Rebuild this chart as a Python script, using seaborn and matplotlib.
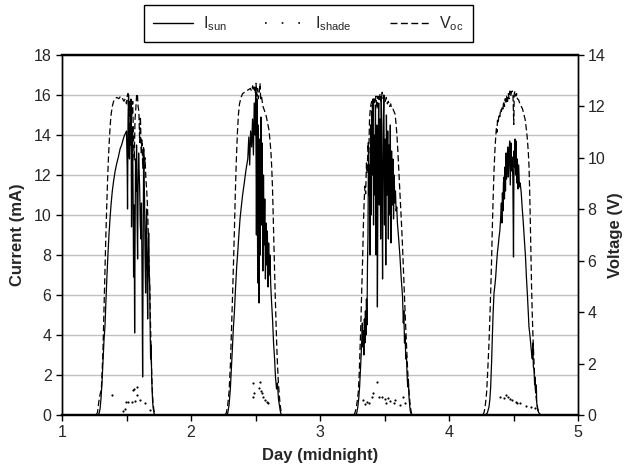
import numpy as np
import pandas as pd
import seaborn as sns
import matplotlib.pyplot as plt
from matplotlib.lines import Line2D

# (day, value) pairs, one list per day and series
isun_day1 = [(1.28, 0), (1.288, 0.1), (1.295, 0.3), (1.302, 0.8), (1.31, 1.6), (1.318, 2.7), (1.326, 3.8),
             (1.333, 4.4), (1.34, 5.6), (1.348, 6.9), (1.356, 8.0), (1.364, 9.0), (1.372, 9.8), (1.38, 10.5),
             (1.39, 11.2), (1.40, 11.7), (1.412, 12.2), (1.425, 12.6), (1.437, 12.9), (1.45, 13.3), (1.462, 13.5),
             (1.475, 13.8), (1.485, 14.0), (1.494, 14.1), (1.50, 14.2), (1.505, 12.5), (1.508, 10.3), (1.512, 14.8),
             (1.516, 16.0), (1.52, 13.0), (1.523, 12.8), (1.527, 14.6), (1.531, 13.5), (1.535, 15.8), (1.539, 9.4),
             (1.543, 12.5), (1.547, 14.4), (1.551, 11.0), (1.555, 6.9), (1.559, 10.5), (1.563, 4.1), (1.566, 8.5),
             (1.57, 12.8), (1.574, 11.2), (1.578, 13.5), (1.582, 10.0), (1.586, 7.8), (1.59, 11.5), (1.594, 13.1),
             (1.598, 12.2), (1.602, 11.4), (1.607, 9.5), (1.612, 8.8), (1.616, 10.6), (1.62, 7.5), (1.623, 4.0),
             (1.625, 1.9), (1.629, 8.0), (1.633, 13.3), (1.637, 11.5), (1.64, 10.8), (1.644, 8.0), (1.648, 6.1),
             (1.652, 9.2), (1.656, 10.3), (1.66, 7.0), (1.664, 4.8), (1.668, 7.8), (1.672, 9.1), (1.676, 7.2),
             (1.68, 6.4), (1.684, 4.0), (1.687, 2.8), (1.691, 3.5), (1.695, 1.9), (1.699, 1.2), (1.703, 0.6),
             (1.708, 0.3), (1.713, 0.1), (1.72, 0)]
isun_day2 = [(2.275, 0), (2.285, 0.1), (2.295, 0.5), (2.305, 1.3), (2.312, 2.2), (2.32, 3.2), (2.328, 4.3),
             (2.336, 5.1), (2.345, 6.3), (2.354, 7.4), (2.362, 8.1), (2.37, 8.9), (2.38, 9.8), (2.388, 10.3),
             (2.40, 11.0), (2.413, 11.6), (2.425, 12.2), (2.435, 12.6), (2.44, 12.8), (2.448, 13.9), (2.455, 12.5),
             (2.462, 14.2), (2.47, 13.4), (2.477, 14.8), (2.484, 13.0), (2.49, 15.6), (2.496, 14.0), (2.502, 16.3),
             (2.507, 9.0), (2.512, 15.8), (2.517, 6.6), (2.522, 14.5), (2.527, 5.6), (2.532, 13.8), (2.537, 8.0),
             (2.542, 14.9), (2.547, 9.5), (2.552, 13.6), (2.557, 7.2), (2.562, 12.0), (2.567, 8.5), (2.572, 10.8),
             (2.577, 6.8), (2.582, 9.6), (2.587, 7.5), (2.592, 9.2), (2.597, 6.4), (2.602, 8.6), (2.607, 7.0),
             (2.612, 8.0), (2.618, 6.5), (2.625, 5.6), (2.632, 4.8), (2.64, 3.6), (2.648, 2.8), (2.655, 1.9),
             (2.663, 1.3), (2.67, 1.6), (2.678, 0.8), (2.685, 0.5), (2.692, 0.2), (2.70, 0)]
isun_day3 = [(3.275, 0), (3.285, 0.1), (3.293, 0.4), (3.30, 0.8), (3.307, 1.4), (3.313, 2.2), (3.319, 3.0),
             (3.324, 3.8), (3.328, 4.6), (3.332, 3.4), (3.336, 4.2), (3.34, 3.0), (3.344, 4.8), (3.348, 3.6),
             (3.352, 5.2), (3.356, 4.0), (3.36, 5.8), (3.364, 4.5), (3.368, 7.5), (3.372, 9.0), (3.376, 13.4),
             (3.38, 11.0), (3.384, 12.5), (3.388, 8.0), (3.392, 14.5), (3.396, 10.0), (3.40, 15.2), (3.405, 12.0),
             (3.41, 15.8), (3.415, 9.5), (3.42, 14.0), (3.425, 11.0), (3.43, 15.5), (3.435, 8.0), (3.44, 14.5),
             (3.445, 5.4), (3.45, 13.0), (3.455, 15.6), (3.46, 10.5), (3.465, 14.8), (3.47, 8.8), (3.475, 15.9),
             (3.48, 12.0), (3.485, 6.8), (3.49, 14.5), (3.495, 16.0), (3.50, 9.5), (3.505, 13.8), (3.51, 7.5),
             (3.515, 15.0), (3.52, 11.0), (3.525, 14.2), (3.53, 8.8), (3.535, 13.5), (3.54, 10.0), (3.545, 14.5),
             (3.55, 8.6), (3.555, 13.2), (3.56, 10.5), (3.565, 12.8), (3.57, 9.8), (3.575, 12.0), (3.58, 10.6),
             (3.585, 11.2), (3.59, 10.2), (3.595, 10.4), (3.60, 9.6), (3.61, 8.8), (3.62, 7.9), (3.63, 6.8),
             (3.64, 5.9), (3.646, 4.6), (3.65, 5.2), (3.655, 3.6), (3.66, 4.0), (3.665, 2.8), (3.67, 3.0),
             (3.675, 2.0), (3.68, 1.4), (3.685, 1.8), (3.69, 0.9), (3.695, 0.5), (3.70, 0.2), (3.71, 0)]
isun_day4 = [(4.28, 0), (4.29, 0.05), (4.297, 0.1), (4.31, 0.4), (4.317, 0.8), (4.323, 1.4), (4.33, 2.6),
             (4.336, 3.9), (4.342, 5.1), (4.349, 6.1), (4.356, 6.5), (4.362, 6.9), (4.368, 7.5), (4.375, 8.1),
             (4.382, 8.5), (4.388, 8.9), (4.394, 9.2), (4.40, 9.8), (4.406, 10.6), (4.41, 9.6), (4.414, 11.1),
             (4.418, 10.2), (4.422, 11.6), (4.426, 11.9), (4.43, 10.8), (4.434, 12.4), (4.438, 11.2), (4.442, 13.1),
             (4.446, 11.8), (4.45, 12.6), (4.455, 13.4), (4.46, 11.9), (4.465, 13.0), (4.47, 13.7), (4.475, 11.5),
             (4.48, 13.6), (4.485, 12.2), (4.49, 12.9), (4.495, 11.8), (4.50, 7.9), (4.504, 13.2), (4.508, 12.4),
             (4.512, 13.8), (4.516, 12.0), (4.52, 13.7), (4.525, 11.6), (4.53, 12.8), (4.535, 11.3), (4.54, 12.5),
             (4.546, 11.4), (4.552, 11.6), (4.56, 11.1), (4.568, 10.3), (4.575, 9.7), (4.581, 9.1), (4.588, 8.4),
             (4.594, 7.8), (4.60, 6.9), (4.607, 6.1), (4.614, 5.2), (4.62, 4.4), (4.627, 4.0), (4.633, 3.6),
             (4.64, 3.1), (4.646, 2.8), (4.65, 3.6), (4.654, 2.4), (4.659, 2.3), (4.664, 1.5), (4.668, 1.9),
             (4.672, 1.1), (4.677, 1.5), (4.68, 0.6), (4.685, 0.4), (4.69, 0.2), (4.698, 0.1), (4.71, 0)]

voc_day1 = [(1.265, 0), (1.275, 0.1), (1.285, 0.5), (1.295, 0.8), (1.305, 1.0), (1.312, 1.8), (1.318, 2.6),
            (1.325, 4.0), (1.332, 5.4), (1.339, 6.8), (1.346, 8.0), (1.353, 9.1), (1.36, 10.0), (1.367, 10.7),
            (1.374, 11.3), (1.381, 11.7), (1.39, 12.0), (1.40, 12.2), (1.41, 12.3), (1.425, 12.35), (1.44, 12.3),
            (1.455, 12.4), (1.47, 12.3), (1.48, 12.2), (1.49, 12.3), (1.50, 12.1), (1.505, 12.4), (1.512, 12.5),
            (1.518, 11.5), (1.524, 12.2), (1.53, 11.2), (1.536, 12.3), (1.542, 11.6), (1.548, 12.2), (1.554, 10.8),
            (1.56, 9.9), (1.566, 11.5), (1.572, 11.9), (1.578, 12.4), (1.584, 12.5), (1.59, 12.0), (1.596, 11.8),
            (1.602, 10.6), (1.608, 11.6), (1.614, 10.2), (1.62, 10.7), (1.626, 9.6), (1.632, 10.4), (1.638, 9.6),
            (1.644, 10.0), (1.65, 9.2), (1.656, 8.8), (1.662, 8.2), (1.668, 7.2), (1.674, 6.0), (1.68, 5.0),
            (1.686, 3.6), (1.692, 2.2), (1.698, 1.2), (1.705, 0.5), (1.712, 0.2), (1.72, 0)]
voc_day2 = [(2.265, 0), (2.275, 0.1), (2.285, 0.4), (2.295, 0.9), (2.305, 1.9), (2.315, 3.5), (2.323, 4.8),
            (2.33, 6.0), (2.337, 7.3), (2.344, 8.7), (2.352, 10.0), (2.36, 11.0), (2.368, 11.7), (2.376, 12.1),
            (2.388, 12.35), (2.40, 12.5), (2.415, 12.55), (2.43, 12.6), (2.445, 12.65), (2.46, 12.7), (2.47, 12.6),
            (2.478, 12.8), (2.485, 12.6), (2.492, 12.75), (2.498, 12.5), (2.504, 12.9), (2.51, 12.4), (2.516, 12.7),
            (2.522, 12.3), (2.528, 12.5), (2.535, 12.9), (2.54, 12.3), (2.546, 12.4), (2.552, 12.2), (2.558, 12.0),
            (2.565, 11.9), (2.572, 11.8), (2.58, 11.7), (2.588, 11.5), (2.596, 11.3), (2.604, 11.1), (2.612, 10.7),
            (2.62, 10.2), (2.626, 9.6), (2.632, 8.8), (2.637, 7.8), (2.642, 6.8), (2.647, 5.8), (2.652, 4.8),
            (2.658, 3.8), (2.664, 2.8), (2.67, 2.0), (2.677, 1.3), (2.684, 0.8), (2.691, 0.4), (2.698, 0.15),
            (2.705, 0)]
voc_day3 = [(3.262, 0), (3.272, 0.1), (3.282, 0.3), (3.29, 0.6), (3.297, 0.9), (3.304, 1.6), (3.31, 2.5),
            (3.317, 3.6), (3.323, 4.75), (3.33, 6.0), (3.336, 7.3), (3.342, 8.3), (3.348, 8.9), (3.354, 8.6),
            (3.36, 9.8), (3.366, 9.4), (3.372, 10.6), (3.378, 10.2), (3.384, 11.5), (3.39, 11.9), (3.396, 12.1),
            (3.402, 12.2), (3.41, 11.6), (3.418, 12.3), (3.426, 12.1), (3.434, 12.4), (3.442, 11.9), (3.45, 12.4),
            (3.458, 12.2), (3.466, 12.5), (3.474, 12.2), (3.482, 12.55), (3.49, 12.3), (3.498, 12.4), (3.506, 12.2),
            (3.514, 12.35), (3.522, 12.1), (3.53, 12.2), (3.54, 12.0), (3.548, 12.1), (3.556, 11.9), (3.565, 11.9),
            (3.574, 11.8), (3.582, 11.7), (3.59, 11.3), (3.596, 10.9), (3.602, 10.4), (3.608, 9.8), (3.614, 9.2),
            (3.62, 8.6), (3.627, 7.9), (3.634, 7.2), (3.641, 6.4), (3.648, 5.5), (3.655, 4.6), (3.662, 3.7),
            (3.669, 2.9), (3.676, 2.1), (3.683, 1.4), (3.69, 0.9), (3.697, 0.5), (3.704, 0.2), (3.712, 0)]
voc_day4 = [(4.262, 0), (4.272, 0.1), (4.282, 0.4), (4.292, 0.9), (4.30, 1.7), (4.31, 2.8), (4.317, 3.8),
            (4.323, 4.75), (4.33, 6.0), (4.336, 7.3), (4.342, 8.4), (4.349, 9.5), (4.356, 10.3), (4.362, 10.8),
            (4.368, 11.2), (4.372, 11.0), (4.376, 11.5), (4.382, 11.4), (4.388, 11.7), (4.394, 11.6), (4.40, 11.9),
            (4.406, 11.8), (4.412, 12.0), (4.418, 11.9), (4.424, 12.2), (4.43, 12.0), (4.436, 12.3), (4.442, 12.1),
            (4.448, 12.4), (4.454, 12.2), (4.46, 12.5), (4.466, 12.3), (4.472, 12.6), (4.478, 12.4), (4.484, 12.55),
            (4.49, 12.6), (4.496, 12.4), (4.502, 11.3), (4.506, 12.5), (4.512, 12.6), (4.518, 12.4), (4.524, 12.5),
            (4.53, 12.3), (4.54, 12.25), (4.55, 12.1), (4.56, 12.0), (4.57, 11.9), (4.58, 11.7), (4.59, 11.5),
            (4.60, 11.1), (4.608, 10.7), (4.615, 10.2), (4.62, 9.7), (4.625, 8.8), (4.63, 7.6), (4.635, 6.3),
            (4.64, 5.0), (4.645, 4.0), (4.65, 3.2), (4.656, 2.4), (4.662, 1.7), (4.668, 1.1), (4.675, 0.7),
            (4.682, 0.4), (4.69, 0.2), (4.70, 0.05), (4.71, 0)]

ishade_day1 = [(1.385, 1.0), (1.47, 0.2), (1.485, 0.3), (1.496, 0.67), (1.51, 0.65), (1.54, 0.67), (1.55, 1.25),
               (1.558, 1.3), (1.565, 0.7), (1.579, 1.4), (1.585, 1.0), (1.605, 0.75), (1.643, 0.6), (1.68, 0.25)]
ishade_day2 = [(2.478, 0.9), (2.483, 1.6), (2.49, 1.1), (2.53, 1.35), (2.535, 1.65), (2.542, 1.2), (2.548, 1.1),
               (2.56, 0.9), (2.574, 0.75), (2.587, 0.65), (2.60, 0.6)]
ishade_day3 = [(3.336, 0.75), (3.35, 0.55), (3.362, 0.67), (3.38, 0.6), (3.40, 0.9), (3.413, 1.1), (3.44, 1.67),
               (3.455, 0.9), (3.478, 0.92), (3.50, 0.8), (3.515, 0.6), (3.53, 0.85), (3.545, 0.7), (3.57, 0.6),
               (3.585, 0.75), (3.62, 0.5), (3.646, 0.9), (3.66, 0.6)]
ishade_day4 = [(4.395, 0.92), (4.43, 0.85), (4.44, 1.0), (4.455, 0.9), (4.47, 0.8), (4.49, 0.75), (4.517, 0.67),
               (4.53, 0.6), (4.55, 0.6), (4.60, 0.45), (4.633, 0.4), (4.667, 0.35)]

day_ticks = [1, 2, 3, 4, 5]
current_ticks = list(range(0, 19, 2))
voltage_ticks = list(range(0, 15, 2))

sns.set_style("white")
plt.rcParams['font.family'] = ['Liberation Sans', 'DejaVu Sans']
plt.rcParams['mathtext.fontset'] = 'custom'
plt.rcParams['mathtext.rm'] = 'Liberation Sans'

fig = plt.figure(figsize=(6.24, 4.74), dpi=100)
ax = fig.add_axes([62/624, 1 - 415/474, 516/624, 360/474])
ax2 = ax.twinx()

dash = (0, (5, 2.5))
for day in [isun_day1, isun_day2, isun_day3, isun_day4]:
    t, v = zip(*day)
    sns.lineplot(x=list(t), y=list(v), ax=ax, color='black', linewidth=0.9, estimator=None, sort=False)
for day in [ishade_day1, ishade_day2, ishade_day3, ishade_day4]:
    t, v = zip(*day)
    sns.scatterplot(x=list(t), y=list(v), ax=ax, color='black', s=2.5, linewidth=0)
for day in [voc_day1, voc_day2, voc_day3, voc_day4]:
    t, v = zip(*day)
    sns.lineplot(x=list(t), y=list(v), ax=ax2, color='black', linewidth=0.9, linestyle=dash,
                 estimator=None, sort=False)

ax.set_xlim(1, 5)
ax.set_ylim(0, 18)
ax2.set_ylim(0, 14)
ax.set_xticks(day_ticks)
ax.set_xticks([1.5, 2.5, 3.5, 4.5], minor=True)
ax.set_yticks(current_ticks)
ax2.set_yticks(voltage_ticks)

ax.yaxis.grid(True, color='#c0c0c0', linewidth=1.0)
ax.xaxis.grid(False)
ax2.grid(False)
ax.set_axisbelow(True)

ax.tick_params(axis='x', which='both', bottom=True, direction='out', length=4, width=1,
               color='black', labelsize=11.5, pad=3)
ax.tick_params(axis='y', left=True, direction='out', length=4, width=1, color='black', labelsize=11.5)
ax2.tick_params(axis='y', right=True, direction='out', length=4, width=1, color='black', labelsize=11.5,
                pad=3)

for a in (ax, ax2):
    for side in ['left', 'right']:
        a.spines[side].set_color('black')
        a.spines[side].set_linewidth(1.0)
    for side in ['top', 'bottom']:
        a.spines[side].set_color('black')
        a.spines[side].set_linewidth(1.6)

ax.set_xlabel('Day (midnight)', fontsize=12, fontweight='bold', labelpad=6)
ax.set_ylabel('Current (mA)', fontsize=12, fontweight='bold', labelpad=6)
ax2.set_ylabel('Voltage (V)', fontsize=12, fontweight='bold', labelpad=2)

handles = [Line2D([], [], color='black', linewidth=1.0),
           Line2D([], [], color='black', linewidth=1.2, linestyle=(0, (1, 9))),
           Line2D([], [], color='black', linewidth=1.0, linestyle=dash)]
labels = [r'$\mathregular{I_{sun}}$', r'$\mathregular{I_{shade}}$', r'$\mathregular{V_{oc}}$']
lgd = fig.legend(handles, labels, loc='center', bbox_to_anchor=(308.5/624, 1 - 23.5/474), ncol=3,
                 frameon=True, fancybox=False, edgecolor='black', framealpha=1, fontsize=11.5,
                 handlelength=2.5, columnspacing=2.4, handletextpad=0.6, borderpad=0.6)
lgd.get_frame().set_linewidth(1.0)

fig.savefig('out.png', dpi=100)
